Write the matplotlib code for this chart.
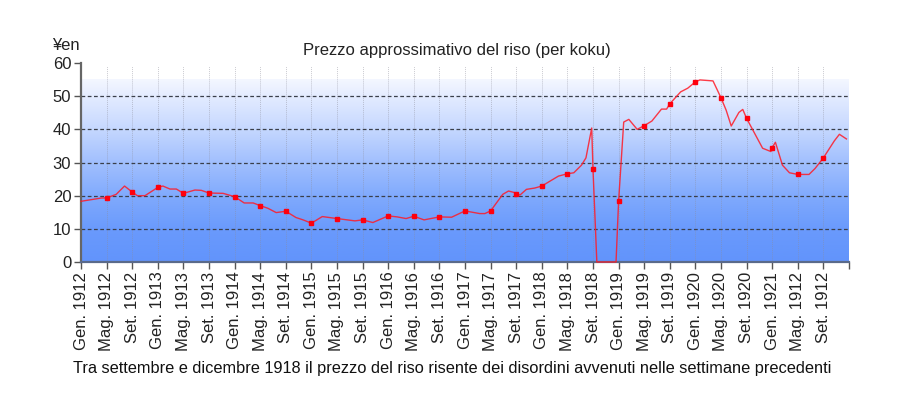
import numpy as np
import matplotlib
matplotlib.use("Agg")
import matplotlib.pyplot as plt
from matplotlib.colors import LinearSegmentedColormap

plt.rcParams['font.family'] = ['Liberation Sans', 'DejaVu Sans']

# months since Jan 1912 and approximate rice price (yen per koku)
months = [0, 3.2, 4, 5.5, 6.8, 8, 8.8, 10, 12, 12.8, 13.9, 14.9, 16, 17.8, 18.8, 20,
          22.2, 24, 25.5, 26.9, 28, 29.2, 30.5, 32, 33.6, 34.7, 36, 37.7, 40, 42.8, 44,
          45.6, 48, 49.4, 50.8, 52, 53.6, 56, 57.9, 60, 62.3, 63.1, 64, 65.9, 66.8, 67.8,
          68, 68.6, 69.6, 70.9, 72, 74.6, 76, 77, 78.2, 78.9, 79.8, 80, 80.6, 83.6, 84,
          84.8, 85.6, 86.9, 88, 89.2, 90.7, 91.5, 92, 93.7, 94.8, 96, 96.7, 98.75, 100,
          100.8, 101.6, 102.8, 103.4, 104, 106.5, 107.8, 108, 108.5, 109.6, 110.7, 112,
          113.75, 114.7, 116, 117.7, 118.5, 119.6]
price = [18.3, 19.3, 19.3, 20.4, 22.9, 21.1, 20.0, 20.0, 22.5, 22.9, 22.0, 22.0, 20.7, 21.7, 21.6, 20.8,
         20.7, 19.7, 17.8, 17.8, 17.0, 16.2, 14.9, 15.3, 13.4, 12.7, 11.7, 13.7, 13.1, 12.4, 12.7,
         11.9, 13.9, 13.6, 13.1, 13.8, 12.7, 13.6, 13.5, 15.4, 14.6, 14.6, 15.4, 20.4, 21.4, 20.9,
         20.6, 20.2, 21.9, 22.3, 22.9, 25.9, 26.6, 26.9, 29.2, 31.4, 40.4, 27.9, 0.0, 0.0, 18.3,
         42.2, 43.0, 40.0, 41.1, 42.5, 46.1, 46.1, 47.7, 51.3, 52.4, 54.3, 54.9, 54.6, 49.5,
         45.8, 41.0, 45.1, 46.0, 43.3, 34.3, 33.3, 34.5, 36.1, 29.2, 26.9, 26.4,
         26.4, 28.2, 31.4, 36.5, 38.5, 37.1]

tick_months = list(range(0, 121, 4))
tick_labels = ["Gen. 1912", "Mag. 1912", "Set. 1912",
               "Gen. 1913", "Mag. 1913", "Set. 1913",
               "Gen. 1914", "Mag. 1914", "Set. 1914",
               "Gen. 1915", "Mag. 1915", "Set. 1915",
               "Gen. 1916", "Mag. 1916", "Set. 1916",
               "Gen. 1917", "Mag. 1917", "Set. 1917",
               "Gen. 1918", "Mag. 1918", "Set. 1918",
               "Gen. 1919", "Mag. 1919", "Set. 1919",
               "Gen. 1920", "Mag. 1920", "Set. 1920",
               "Gen. 1921", "Mag. 1912", "Set. 1912", ""]
y_ticks = [0, 10, 20, 30, 40, 50, 60]
grid_levels = [10, 20, 30, 40, 50]

title = "Prezzo approssimativo del riso (per koku)"
y_label = "¥en"
caption = ("Tra settembre e dicembre 1918 il prezzo del riso risente dei disordini "
           "avvenuti nelle settimane precedenti")

fig = plt.figure(figsize=(9, 4.18), dpi=100)
ax = fig.add_axes([81/900, 1 - 262/418, (849 - 81)/900, (262 - 63)/418])
ax.set_xlim(0, 120)
ax.set_ylim(0, 60)

# gradient background
cmap = LinearSegmentedColormap.from_list("bg", [
    (0.00, (98/255, 148/255, 252/255)),
    (0.18, (106/255, 154/255, 252/255)),
    (0.36, (128/255, 170/255, 253/255)),
    (0.55, (162/255, 192/255, 254/255)),
    (0.73, (198/255, 216/255, 255/255)),
    (0.91, (228/255, 236/255, 255/255)),
    (1.00, (244/255, 247/255, 255/255)),
])
grad = np.linspace(0, 1, 256).reshape(-1, 1)
ax.imshow(grad, cmap=cmap, origin="lower", aspect="auto",
          extent=[0, 120, 0, 55], zorder=0, interpolation="bilinear")

# vertical faint grid
ax.vlines(tick_months, 0, 59, colors=(0.55, 0.55, 0.6, 0.45), linewidth=0.7,
          linestyles=(0, (1, 1)), zorder=1)
# horizontal dashed grid
ax.hlines(grid_levels, 0, 120, colors="#3a3f4a", linewidth=0.9,
          linestyles=(0, (3, 2)), zorder=2)

# data line
ax.plot(months, price, color=(1, 0.1, 0.15, 0.85), linewidth=1.0, zorder=3,
        clip_on=False)
m = np.array(months)
p = np.array(price)
mask = (np.mod(m, 4) == 0) & (m > 0)
ax.plot(m[mask], p[mask], linestyle="none", marker="s", markersize=2.4,
        color=(1, 0, 0.05), zorder=4)

ax.set_xticks(tick_months)
ax.set_xticklabels(tick_labels, rotation=90, fontsize=12, color="#222222")
ax.set_yticks(y_ticks)
ax.set_yticklabels([str(v) for v in y_ticks], fontsize=12, color="#222222")
ax.tick_params(axis="both", length=5, width=1, color="#555555", pad=2)

for s in ["top", "right"]:
    ax.spines[s].set_visible(False)
ax.spines["left"].set_color("#666666")
ax.spines["left"].set_linewidth(1.6)
ax.spines["bottom"].set_color("#5a6a8a")
ax.spines["bottom"].set_linewidth(1.6)
ax.set_facecolor("none")

fig.text(457/900, 1 - 51/418, title, ha="center", va="center", fontsize=12,
         color="#222222")
fig.text(52/900, 1 - 46/418, y_label, ha="left", va="center", fontsize=12,
         color="#222222")
fig.text(452/900, 1 - 369/418, caption, ha="center", va="center", fontsize=11.8,
         color="#111111")

fig.savefig("out.png", dpi=100)
